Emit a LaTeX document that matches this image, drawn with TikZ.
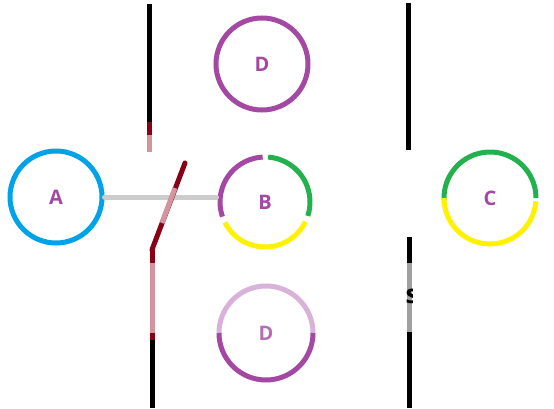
\documentclass[tikz,border=0pt]{standalone}
\usepackage{fontspec}
\setsansfont{Open Sans}
\usepackage{xcolor}
\usepackage{tikz}
\usetikzlibrary{calc}
\definecolor{ringblue}{RGB}{0, 162, 232}
\definecolor{ringpurple}{RGB}{163, 73, 164}
\definecolor{ringlilac}{RGB}{216, 178, 216}
\definecolor{ringgreen}{RGB}{34, 177, 76}
\definecolor{ringyellow}{RGB}{255, 242, 0}
\definecolor{wallred}{RGB}{136, 0, 21}
\definecolor{wallpink}{RGB}{212, 148, 158}
\definecolor{wiregrey}{RGB}{204, 204, 204}
\definecolor{wallgrey}{RGB}{160, 160, 160}

\begin{document}
\begin{tikzpicture}[
    x=1pt, y=1pt,
    ring/.style={circle, minimum size=92pt, inner sep=0pt, line width=5pt},
    arcline/.style={line width=5pt},
    lbl/.style={font=\sffamily\bfseries\fontsize{20}{20}\selectfont, text=ringpurple},
    wall/.style={line width=5pt}
  ]
  \useasboundingbox (0,0) rectangle (554,408);

  % Walls
  \draw[wall, black] (149,404) -- (149,286);
  \draw[wall, wallred] (149,286) -- (149,273);
  \draw[wall, wallpink] (149,273) -- (149,256);

  \draw[wall, wallred] (152,158) -- (152,145);
  \draw[wall, wallpink] (152,145) -- (152,75);
  \draw[wall, wallred] (152,75) -- (152,68);
  \draw[wall, black] (152,68) -- (152,0);

  \draw[wall, black] (408,405) -- (408,258);
  \draw[wall, black] (409,171) -- (409,145);
  \draw[wall, wallgrey] (409,145) -- (409,76);
  \draw[wall, black] (409,76) -- (409,0);
  \begin{scope}
    \clip (406,76) rectangle (412,145);
    \node[font=\sffamily\bfseries\fontsize{26}{26}\selectfont, inner sep=0pt] (s) at (412,112) {s};
  \end{scope}

  % Rings
  \node[ring, draw=ringblue] (A) at (56,211) {};
  \node[ring, draw=ringpurple] (D1) at (262,344) {};
  \node[ring] (B) at (265,206) {};
  \node[ring] (C) at (490,210) {};
  \node[ring] (D2) at (266,75) {};

  \draw[arcline, ringpurple] ([shift={(199:45)}]B.center) arc[start angle=199, end angle=93, radius=45];
  \draw[arcline, ringgreen] ([shift={(86:45)}]B.center) arc[start angle=86, end angle=-18, radius=45];
  \draw[arcline, ringyellow] ([shift={(-26:45)}]B.center) arc[start angle=-26, end angle=-153, radius=45];

  \draw[arcline, ringgreen] ([shift={(183:46)}]C.center) arc[start angle=183, end angle=0, radius=46];
  \draw[arcline, ringyellow] ([shift={(-4:46)}]C.center) arc[start angle=-4, end angle=-180, radius=46];

  \draw[arcline, ringlilac] ([shift={(180:47)}]D2.center) arc[start angle=180, end angle=0, radius=47];
  \draw[arcline, ringpurple] ([shift={(0:47)}]D2.center) arc[start angle=0, end angle=-180, radius=47];

  % Wire and switch
  \draw[line width=5pt, wiregrey, line cap=round] (A.east) -- (A.east -| B.west);
  \draw[wall, wallred, line cap=round] (152,158) -- (153,161) -- (185,245);
  \draw[wall, wallpink] (162,185) -- (175,220);

  % Labels
  \node[lbl] at (A) {A};
  \node[lbl] at (D1) {D};
  \node[lbl] at (B) {B};
  \node[lbl] at (C) {C};
  \node[lbl, text=ringpurple!80] at (D2) {D};
\end{tikzpicture}
\end{document}
